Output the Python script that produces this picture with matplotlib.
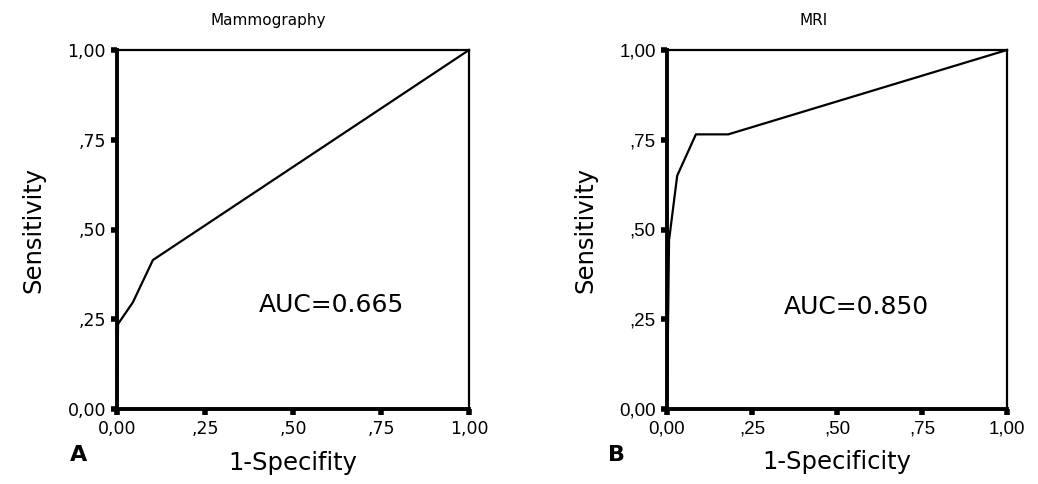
import matplotlib
matplotlib.use("Agg")
import matplotlib.pyplot as plt

# ROC curve points
mammo_fpr = [0.0, 0.003, 0.045, 0.102, 1.0]
mammo_tpr = [0.0, 0.237, 0.297, 0.415, 1.0]
mri_fpr = [0.0, 0.006, 0.03, 0.085, 0.18, 1.0]
mri_tpr = [0.0, 0.47, 0.65, 0.765, 0.765, 1.0]

ticks = [0, 0.25, 0.5, 0.75, 1.0]
tick_labels = ["0,00", ",25", ",50", ",75", "1,00"]

W, H = 1038, 484
fig = plt.figure(figsize=(W / 100, H / 100), dpi=100)

panels = [
    # left px, right px, fpr, tpr, title, auc text, auc pos, letter, letter x, xlabel, tick font, tick size
    (117, 469, mammo_fpr, mammo_tpr, "Mammography", "AUC=0.665", (0.61, 0.29), "A", -0.11, "1-Specifity", "DejaVu Sans", 12.5),
    (667, 1007, mri_fpr, mri_tpr, "MRI", "AUC=0.850", (0.556, 0.285), "B", -0.15, "1-Specificity", "Liberation Sans", 13.5),
]

for x0, x1, fpr, tpr, title, auc, aucpos, letter, lx, xlab, tfont, tsize in panels:
    ax = fig.add_axes([x0 / W, (H - 409) / H, (x1 - x0) / W, 359 / H])
    ax.plot(fpr, tpr, color="black", lw=1.6, clip_on=False)
    ax.set_xlim(0, 1)
    ax.set_ylim(0, 1)
    ax.set_xticks(ticks)
    ax.set_yticks(ticks)
    ax.set_xticklabels(tick_labels, fontsize=tsize, family=tfont)
    ax.set_yticklabels(tick_labels, fontsize=tsize, family=tfont)
    ax.tick_params(direction="out", length=4, width=4, pad=4)
    for s in ["left", "bottom"]:
        ax.spines[s].set_linewidth(2.8)
    for s in ["top", "right"]:
        ax.spines[s].set_linewidth(1.6)
    ax.set_ylabel("Sensitivity", fontsize=17.5, labelpad=16)
    ax.set_xlabel(xlab, fontsize=17.5, labelpad=9)
    ax.text(0.43, 1.06, title, transform=ax.transAxes, ha="center", va="bottom", fontsize=11)
    ax.text(aucpos[0], aucpos[1], auc, fontsize=18, ha="center", va="center")
    ax.text(lx, -0.10, letter, transform=ax.transAxes, fontsize=16, fontweight="bold",
            ha="center", va="top")

fig.savefig("out.png", dpi=100)
